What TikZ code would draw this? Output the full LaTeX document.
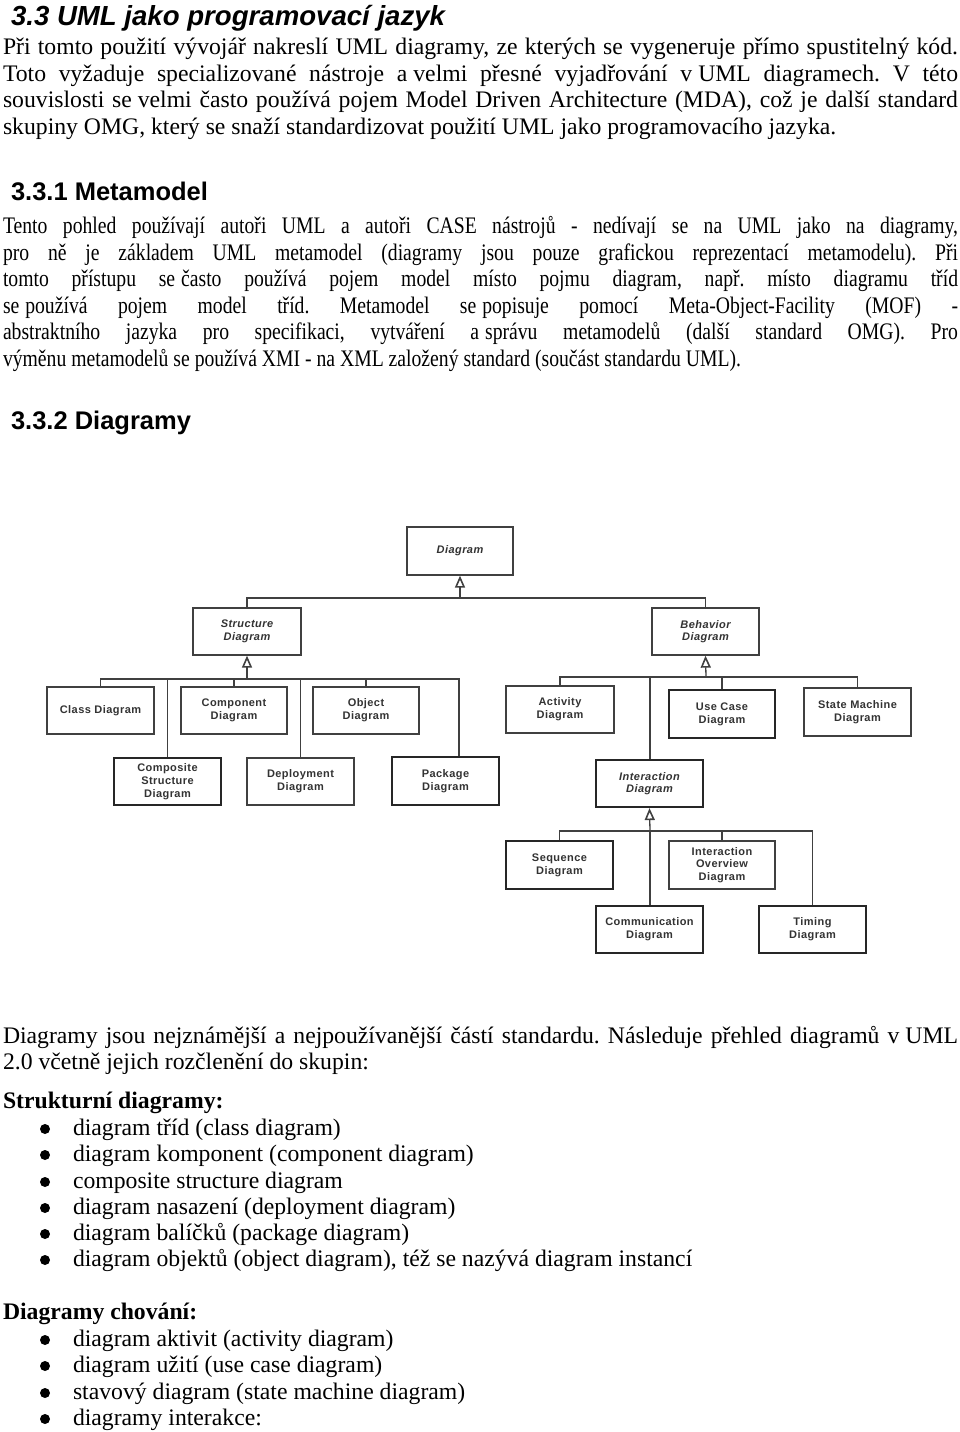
\documentclass[tikz,border=0pt]{standalone}
\usepackage{fontspec}
\setmainfont{Liberation Serif}
\newfontfamily\condfont[FakeStretch=0.83]{Liberation Serif}
\newfontfamily\headfont{Liberation Sans}
\newfontfamily\diafont[LetterSpace=4]{Liberation Sans}
\usetikzlibrary{arrows.meta}
\frenchspacing
\newcommand\jline[1]{\hbox to 955pt{#1}}
\newcommand\nbs{\hskip 0.25em\relax}
\tikzset{
  txt/.style={anchor=base west, inner sep=0pt, outer sep=0pt},
  body/.style={txt, font=\fontsize{23.7}{26}\selectfont},
  bodyb/.style={txt, font=\bfseries\fontsize{23.7}{26}\selectfont},
  cond/.style={txt, font=\condfont\fontsize{23.7}{26}\selectfont},
  head/.style={txt, font=\headfont\bfseries\fontsize{25.5}{28}\selectfont},
  headi/.style={txt, font=\headfont\bfseries\itshape\fontsize{27.6}{30}\selectfont},
  umlbox/.style={draw=black!75, line width=1.3pt, fill=white, minimum width=107pt, minimum height=47pt, inner sep=1pt, align=center, text=black!80, font=\diafont\bfseries\fontsize{11}{12.7}\selectfont},
  absbox/.style={umlbox, font=\diafont\bfseries\itshape\fontsize{11}{12.7}\selectfont},
  thickbox/.style={line width=2.2pt, draw=black!85},
  link/.style={draw=black!75, line width=1.3pt},
  gen/.style={link, -{Triangle[open, length=12pt, width=10pt, line width=1.6pt]}},
  bullet/.style={circle, fill=black, inner sep=0pt, minimum size=10pt},
}
\begin{document}
\begin{tikzpicture}[x=1pt, y=-1pt]
\useasboundingbox (0,0) rectangle (960,1432);
% ---- section 3.3
\node[headi] (h1) at (11,25) {3.3 UML jako programovací jazyk};
\node[body] (p1a) at (3,54.5) {\jline{Při tomto použití vývojář nakreslí UML diagramy, ze kterých se vygeneruje přímo spustitelný kód.}};
\node[body] (p1b) at (3,81) {\jline{Toto vyžaduje specializované nástroje a\nbs velmi přesné vyjadřování v\nbs UML diagramech. V této}};
\node[body] (p1c) at (3,107.5) {\jline{souvislosti se\nbs velmi často používá pojem Model Driven Architecture (MDA), což je další standard}};
\node[body] (p1d) at (3,134) {skupiny OMG, který se snaží standardizovat použití UML jako programovacího jazyka.};
% ---- 3.3.1
\node[head] (h2) at (11,200.5) {3.3.1 Metamodel};
\node[cond] (p2a) at (3,233.5) {\jline{Tento pohled používají autoři UML a autoři CASE nástrojů - nedívají se na UML jako na diagramy,}};
\node[cond] (p2b) at (3,260) {\jline{pro ně je základem UML metamodel (diagramy jsou pouze grafickou reprezentací metamodelu). Při}};
\node[cond] (p2c) at (3,286.5) {\jline{tomto přístupu se\nbs často používá pojem model místo pojmu diagram, např. místo diagramu tříd}};
\node[cond] (p2d) at (3,313) {\jline{se\nbs používá pojem model tříd. Metamodel se\nbs popisuje pomocí Meta-Object-Facility (MOF) -}};
\node[cond] (p2e) at (3,339.5) {\jline{abstraktního jazyka pro specifikaci, vytváření a\nbs správu metamodelů (další standard OMG). Pro}};
\node[cond] (p2f) at (3,366) {výměnu metamodelů se používá XMI - na XML založený standard (součást standardu UML).};
% ---- 3.3.2
\node[head] (h3) at (11,429) {3.3.2 Diagramy};
% ---- diagram
\node[absbox] (diag) at (460,551) [minimum width=106pt, minimum height=48pt] {Diagram};
\node[absbox] (struct) at (247,631.5) [minimum width=108pt] {Structure\\Diagram};
\node[absbox] (behav) at (705.5,631.5) {Behavior\\Diagram};
\node[umlbox] (class) at (100.5,710.5) {Class Diagram};
\node[umlbox] (comp) at (234,710.5) [minimum width=106pt] {Component\\Diagram};
\node[umlbox] (obj) at (366,710.5) [minimum width=106pt] {Object\\Diagram};
\node[umlbox, thickbox] (compst) at (167.5,781.5) {Composite\\Structure\\Diagram};
\node[umlbox] (deploy) at (300.5,781.5) {Deployment\\Diagram};
\node[umlbox, thickbox] (pkg) at (445.5,781) [minimum height=48pt] {Package\\Diagram};
\node[umlbox] (activity) at (560,709.5) [minimum width=108pt] {Activity\\Diagram};
\node[umlbox, thickbox] (usecase) at (722,714) [minimum width=106pt, minimum height=48pt] {Use Case\\Diagram};
\node[umlbox] (statem) at (857.5,712) [minimum height=48pt] {State Machine\\Diagram};
\node[absbox, thickbox] (inter) at (649.5,783.5) {Interaction\\Diagram};
\node[umlbox, thickbox] (seq) at (559.5,865) [minimum height=48pt] {Sequence\\Diagram};
\node[umlbox] (io) at (722,865) [minimum width=106pt, minimum height=48pt] {Interaction\\Overview\\Diagram};
\node[umlbox, thickbox] (commun) at (649.5,929.5) {Communication\\Diagram};
\node[umlbox, thickbox] (timing) at (812.5,929.5) {Timing\\Diagram};
% buses
\coordinate (db) at (460,598);
\coordinate (sb) at (247,679);
\coordinate (sbR) at (459,679);
\coordinate (bb) at (706,677);
\coordinate (ib) at (650,831);
% Diagram generalization
\draw[link] (struct.north) |- (behav.north |- db) -- (behav.north);
\draw[gen] (db) -- (diag.south);
% Structure
\draw[link] (class.north) |- (sbR) -- (sbR |- pkg.north);
\draw[link] (comp.north) -- (comp.north |- sb);
\draw[link] (obj.north) -- (obj.north |- sb);
\draw[link] (compst.north) -- (compst.north |- sb);
\draw[link] (deploy.north) -- (deploy.north |- sb);
\draw[gen] (sb) -- (struct.south);
% Behavior
\draw[link] (activity.north) |- (statem.north |- bb) -- (statem.north);
\draw[link] (usecase.north) -- (usecase.north |- bb);
\draw[link, line width=2pt] (inter.north) -- (inter.north |- bb);
\draw[gen] (bb) -- (behav.south);
% Interaction
\draw[link] (seq.north) |- (timing.north |- ib) -- (timing.north);
\draw[link] (io.north) -- (io.north |- ib);
\draw[link, line width=2pt] (commun.north) -- (commun.north |- ib);
\draw[gen] (ib) -- (inter.south);
% ---- bottom text
\node[body] (p3a) at (3,1043) {\jline{Diagramy jsou nejznámější a nejpoužívanější částí standardu. Následuje přehled diagramů v\nbs UML}};
\node[body] (p3b) at (3,1069.5) {2.0 včetně jejich rozčlenění do skupin:};
\node[bodyb] (s1) at (3,1108.5) {Strukturní diagramy:};
\foreach \y/\t [count=\i] in {1135.5/{diagram tříd (class diagram)},1161.5/{diagram komponent (component diagram)},1188.5/{composite structure diagram},1214.5/{diagram nasazení (deployment diagram)},1240.5/{diagram balíčků (package diagram)},1266.5/{diagram objektů (object diagram), též se nazývá diagram instancí}}{
  \node[bullet] (sb\i) at (45,\y-6.5) {};
  \node[body] (st\i) at (73,\y) {\t};
}
\node[bodyb] (s2) at (3,1319.5) {Diagramy chování:};
\foreach \y/\t [count=\i] in {1346.5/{diagram aktivit (activity diagram)},1372.5/{diagram užití (use case diagram)},1399.5/{stavový diagram (state machine diagram)},1425.5/{diagramy interakce:}}{
  \node[bullet] (cb\i) at (45,\y-6.5) {};
  \node[body] (ct\i) at (73,\y) {\t};
}
\end{tikzpicture}
\end{document}
